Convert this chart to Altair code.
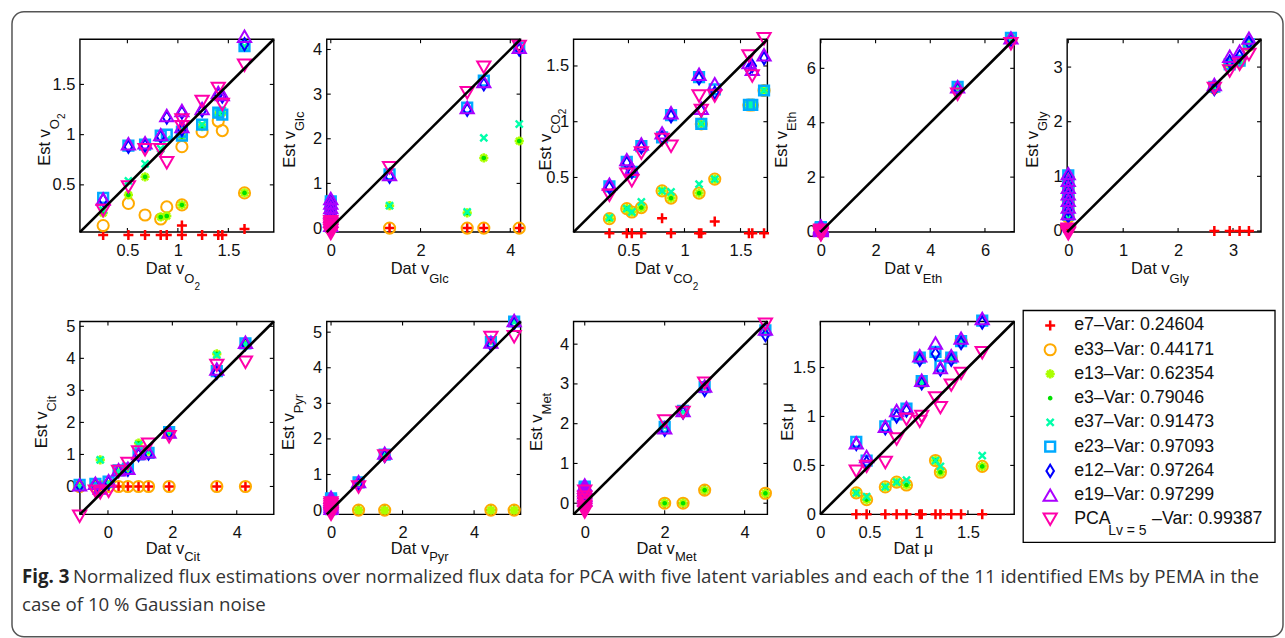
import altair as alt
import pandas as pd

FONT = "Liberation Sans"
W, H = 194, 193

SERIES = ["e7", "e33", "e13", "e3", "e37", "e23", "e12", "e19", "PCA"]
COLORS = ["#ff0000", "#ffaa00", "#aaff00", "#00e000", "#00ffaa", "#00aaff", "#0000ff", "#aa00ff", "#ff00aa"]
LEG_LABELS = ["e7\u2013Var: 0.24604", "e33\u2013Var: 0.44171", "e13\u2013Var: 0.62354",
              "e3\u2013Var: 0.79046", "e37\u2013Var: 0.91473", "e23\u2013Var: 0.97093",
              "e12\u2013Var: 0.97264", "e19\u2013Var: 0.97299"]
PCA_LABEL = ["PCA", "Lv = 5", "\u2013Var: 0.99387"]

# ---------------- data ----------------
x_o2 = [0.26, 0.51, 0.675, 0.83, 0.89, 1.04, 1.04, 1.24, 1.40, 1.44, 1.66]
o2 = {
    "e7":  [0, 0, 0, 0, 0, 0, 0.095, 0, 0, 0, 0.06],
    "e33": [0.095, 0.315, 0.20, 0.16, 0.28, 0.30, 0.88, 1.03, 1.135, 1.04, 0.42],
    "e13": [0.22, 0.40, 0.58, 0.18, 0.19, 0.30, 0.98, 1.08, 1.20, 1.22, 0.42],
    "e3":  [0.22, 0.40, 0.58, 0.18, 0.19, 0.30, 0.98, 1.08, 1.20, 1.22, 0.42],
    "e37": [0.25, 0.54, 0.71, 0.86, 0.95, 1.00, 1.05, 1.10, 1.22, 1.24, 1.88],
    "e23": [0.37, 0.89, 0.90, 0.99, 1.00, 0.99, 1.03, 1.10, 1.22, 1.20, 1.88],
    "e12": [0.35, 0.88, 0.89, 0.98, 1.17, 1.22, 1.05, 1.24, 1.40, 1.38, 1.90],
    "e19": [0.36, 0.91, 0.92, 1.00, 1.19, 1.24, 1.08, 1.26, 1.42, 1.40, 1.98],
    "PCA": [0.245, 0.48, 0.85, 0.85, 0.72, 1.145, 1.08, 1.33, 1.46, 1.30, 1.69],
}
x_glc = [0, 0, 0, 0, 0, 0, 0, 1.31, 3.04, 3.41, 4.2]
glc = {
    "e7":  [0, 0, 0, 0, 0, 0, 0, 0, 0, 0, 0],
    "e33": [0, 0, 0, 0, 0, 0, 0, 0, 0, 0, 0],
    "e13": [0.0, 0.08, 0.15, 0.22, 0.30, 0.36, 0.42, 0.50, 0.34, 1.57, 1.95],
    "e3":  [0.0, 0.08, 0.15, 0.22, 0.30, 0.36, 0.42, 0.50, 0.34, 1.57, 1.95],
    "e37": [0.02, 0.10, 0.20, 0.28, 0.38, 0.46, 0.52, 0.50, 0.36, 2.02, 2.33],
    "e23": [0.04, 0.14, 0.24, 0.34, 0.44, 0.52, 0.60, 1.20, 2.70, 3.30, 4.04],
    "e12": [0.02, 0.12, 0.22, 0.32, 0.40, 0.50, 0.58, 1.15, 2.65, 3.22, 4.00],
    "e19": [0.06, 0.16, 0.26, 0.36, 0.46, 0.56, 0.66, 1.20, 2.70, 3.28, 4.05],
    "PCA": [-0.12, -0.06, -0.02, 0.02, 0.06, 0.10, 0.14, 1.35, 3.03, 3.60, 4.07],
}
x_co2 = [0.33, 0.485, 0.53, 0.615, 0.80, 0.88, 1.13, 1.15, 1.27, 1.575, 1.605, 1.71]
co2 = {
    "e7":  [0, 0, 0, 0, 0.135, 0, 0, 0, 0.105, 0, 0, 0],
    "e33": [0.13, 0.22, 0.19, 0.23, 0.38, 0.315, 0.36, 0.98, 0.485, 1.15, 1.15, 1.28],
    "e13": [0.13, 0.22, 0.19, 0.23, 0.38, 0.315, 0.36, 0.98, 0.485, 1.15, 1.15, 1.28],
    "e3":  [0.13, 0.22, 0.19, 0.23, 0.38, 0.315, 0.36, 0.98, 0.485, 1.15, 1.15, 1.28],
    "e37": [0.14, 0.22, 0.19, 0.28, 0.38, 0.37, 0.44, 0.98, 0.485, 1.15, 1.15, 1.28],
    "e23": [0.42, 0.64, 0.55, 0.78, 0.86, 1.06, 1.40, 0.98, 1.29, 1.15, 1.15, 1.28],
    "e12": [0.41, 0.63, 0.55, 0.77, 0.86, 1.05, 1.39, 1.10, 1.26, 1.47, 1.50, 1.57],
    "e19": [0.44, 0.66, 0.58, 0.80, 0.90, 1.08, 1.425, 1.12, 1.34, 1.53, 1.47, 1.60],
    "PCA": [0.34, 0.53, 0.47, 0.72, 0.84, 0.78, 1.23, 1.10, 1.23, 1.59, 1.41, 1.745],
}
x_eth = [0, 0, 0, 0, 0, 0, 0, 0, 0, 5.0, 6.95]
eth = {
    "e7":  [0, 0, 0, 0, 0, 0, 0, 0, 0, 5.25, 7.05],
    "e33": [0, 0, 0, 0, 0, 0, 0, 0, 0, 5.25, 7.05],
    "e13": [0.0, 0.03, 0.06, 0.09, 0.12, 0.05, 0.02, 0.08, 0.10, 5.28, 7.08],
    "e3":  [0.0, 0.03, 0.06, 0.09, 0.12, 0.05, 0.02, 0.08, 0.10, 5.28, 7.08],
    "e37": [0.02, 0.05, 0.08, 0.11, 0.14, 0.06, 0.03, 0.10, 0.12, 5.30, 7.10],
    "e23": [0.03, 0.06, 0.10, 0.13, 0.16, 0.08, 0.04, 0.12, 0.14, 5.32, 7.12],
    "e12": [0.0, 0.04, 0.08, 0.12, 0.15, 0.06, 0.02, 0.10, 0.13, 5.25, 7.05],
    "e19": [0.04, 0.08, 0.12, 0.16, 0.20, 0.10, 0.05, 0.14, 0.18, 5.32, 7.12],
    "PCA": [-0.10, -0.05, 0.0, 0.03, -0.08, -0.02, 0.05, -0.12, 0.01, 5.05, 6.90],
}
x_gly = [0, 0, 0, 0, 0, 0, 0, 2.66, 2.94, 3.12, 3.29]
gly = {
    "e7":  [0, 0, 0, 0, 0, 0, 0, 0, 0, 0, 0],
    "e33": [0.25, 0.35, 0.45, 0.55, 0.65, 0.80, 0.95, 2.62, 3.05, 3.10, 3.40],
    "e13": [0.25, 0.35, 0.45, 0.55, 0.65, 0.80, 0.95, 2.62, 3.05, 3.10, 3.40],
    "e3":  [0.25, 0.35, 0.45, 0.55, 0.65, 0.80, 0.95, 2.62, 3.05, 3.10, 3.40],
    "e37": [0.28, 0.38, 0.50, 0.60, 0.70, 0.85, 1.00, 2.64, 3.08, 3.12, 3.42],
    "e23": [0.30, 0.42, 0.55, 0.66, 0.78, 0.90, 1.02, 2.64, 3.05, 3.12, 3.42],
    "e12": [0.27, 0.40, 0.52, 0.64, 0.76, 0.90, 1.00, 2.60, 3.10, 3.20, 3.45],
    "e19": [0.32, 0.44, 0.56, 0.68, 0.80, 0.93, 1.05, 2.68, 3.20, 3.29, 3.53],
    "PCA": [-0.05, 0.0, 0.02, -0.03, 0.01, 0.03, -0.02, 2.61, 2.93, 3.05, 3.23],
}
x_cit = [-0.88, -0.39, -0.24, 0.02, 0.33, 0.62, 0.95, 1.26, 1.9, 3.38, 4.27]
cit = {
    "e7":  [0, 0, 0, 0, 0, 0, 0, 0, 0, 0, 0],
    "e33": [0, 0, 0, 0, 0, 0, 0, 0, 0, 0, 0],
    "e13": [0.0, 0.0, 0.83, 0.05, 0.45, 0.55, 1.35, 1.10, 1.70, 4.14, 4.45],
    "e3":  [0.0, 0.0, 0.83, 0.05, 0.45, 0.55, 1.35, 1.10, 1.70, 4.14, 4.45],
    "e37": [0.0, 0.05, 0.83, 0.10, 0.48, 0.55, 1.30, 1.10, 1.72, 4.10, 4.45],
    "e23": [0.05, 0.08, -0.05, 0.15, 0.50, 0.56, 1.00, 1.05, 1.70, 3.60, 4.47],
    "e12": [0.03, 0.06, -0.10, 0.12, 0.48, 0.52, 0.98, 1.03, 1.68, 3.55, 4.45],
    "e19": [0.05, 0.10, -0.05, 0.18, 0.52, 0.57, 1.03, 1.08, 1.70, 3.67, 4.50],
    "PCA": [-0.93, -0.15, -0.20, -0.15, 0.47, 0.72, 1.08, 1.32, 1.55, 3.78, 3.88],
}
x_pyr = [0, 0, 0, 0, 0, 0, 0, 0.77, 1.5, 4.47, 5.12]
pyr = {
    "e7":  [0, 0, 0, 0, 0, 0, 0, 0, 0, 0, 0],
    "e33": [0, 0, 0, 0, 0, 0, 0, 0, 0, 0, 0],
    "e13": [0, 0, 0, 0, 0, 0, 0, 0, 0, 0, 0],
    "e3":  [0.0, 0.05, 0.10, 0.15, 0.20, 0.25, 0.30, 0.75, 1.55, 4.72, 5.30],
    "e37": [0.02, 0.07, 0.12, 0.17, 0.22, 0.27, 0.30, 0.78, 1.55, 4.72, 5.28],
    "e23": [0.03, 0.08, 0.13, 0.18, 0.23, 0.28, 0.33, 0.78, 1.56, 4.72, 5.30],
    "e12": [0.0, 0.05, 0.10, 0.15, 0.20, 0.25, 0.30, 0.74, 1.52, 4.65, 5.25],
    "e19": [0.05, 0.10, 0.15, 0.20, 0.25, 0.30, 0.36, 0.80, 1.60, 4.72, 5.33],
    "PCA": [-0.12, -0.05, 0.0, 0.05, 0.10, 0.15, 0.20, 0.65, 1.52, 4.85, 4.87],
}
x_met = [0, 0, 0, 0, 0, 0, 0, 2.0, 2.46, 3.0, 4.52]
met = {
    "e7":  [0, 0, 0, 0, 0, 0, 0, 0.0, 0.0, 0.33, 0.25],
    "e33": [0, 0, 0, 0, 0, 0, 0, 0.0, 0.0, 0.33, 0.25],
    "e13": [0, 0, 0, 0, 0, 0, 0, 0.0, 0.0, 0.33, 0.25],
    "e3":  [0, 0, 0, 0, 0, 0, 0, 0.0, 0.0, 0.33, 0.25],
    "e37": [0.0, 0.06, 0.12, 0.18, 0.24, 0.30, 0.36, 1.92, 2.30, 2.92, 4.30],
    "e23": [0.05, 0.12, 0.18, 0.25, 0.32, 0.38, 0.42, 1.92, 2.32, 2.92, 4.35],
    "e12": [0.02, 0.08, 0.15, 0.22, 0.28, 0.34, 0.40, 1.85, 2.28, 2.85, 4.23],
    "e19": [0.08, 0.14, 0.20, 0.27, 0.34, 0.40, 0.46, 1.90, 2.33, 2.95, 4.38],
    "PCA": [-0.22, -0.15, -0.08, 0.0, 0.08, 0.15, 0.30, 2.07, 2.28, 3.02, 4.50],
}
x_mu = [0.365, 0.47, 0.66, 0.775, 0.875, 1.01, 1.03, 1.17, 1.22, 1.33, 1.43, 1.645]
mu = {
    "e7":  [0, 0, 0, 0, 0, 0, 0, 0, 0, 0, 0, 0],
    "e33": [0.22, 0.15, 0.28, 0.33, 0.30, 1.60, 1.35, 0.55, 0.43, 1.60, 1.77, 0.49],
    "e13": [0.22, 0.15, 0.28, 0.33, 0.30, 1.60, 1.35, 0.55, 0.43, 1.60, 1.77, 0.49],
    "e3":  [0.22, 0.15, 0.28, 0.33, 0.30, 1.60, 1.35, 0.55, 0.43, 1.60, 1.77, 0.49],
    "e37": [0.22, 0.18, 0.28, 0.33, 0.35, 1.60, 1.35, 0.55, 0.49, 1.60, 1.77, 0.60],
    "e23": [0.74, 0.55, 0.90, 1.02, 1.08, 1.60, 1.36, 1.66, 1.52, 1.60, 1.77, 1.98],
    "e12": [0.72, 0.53, 0.88, 1.00, 1.06, 1.58, 1.34, 1.64, 1.48, 1.58, 1.75, 1.96],
    "e19": [0.73, 0.59, 0.90, 1.06, 1.09, 1.62, 1.37, 1.75, 1.50, 1.62, 1.80, 2.00],
    "PCA": [0.44, 0.49, 0.53, 0.77, 0.97, 0.95, 1.00, 1.19, 1.09, 1.32, 1.44, 1.65],
}

DATA = [(x_o2, o2), (x_glc, glc), (x_co2, co2), (x_eth, eth), (x_gly, gly),
        (x_cit, cit), (x_pyr, pyr), (x_met, met), (x_mu, mu)]
DOMAINS = [[0.03, 1.95], [-0.09, 4.23], [0.01, 1.74], [-0.02, 7.07], [-0.02, 3.51],
           [-0.87, 5.15], [-0.12, 5.30], [-0.28, 4.57], [0.0, 1.97]]
XTICKS = [[0.5, 1, 1.5], [0, 2, 4], [0.5, 1, 1.5], [0, 2, 4, 6], [0, 1, 2, 3],
          [0, 2, 4], [0, 2, 4], [0, 2, 4], [0, 0.5, 1, 1.5]]
YTICKS = [[0.5, 1, 1.5], [0, 1, 2, 3, 4], [0.5, 1, 1.5], [0, 2, 4, 6], [0, 1, 2, 3],
          [0, 1, 2, 3, 4, 5], [0, 1, 2, 3, 4, 5], [0, 1, 2, 3, 4], [0, 0.5, 1, 1.5]]
TITLES = [("v", "O", "2"), ("v", "Glc", ""), ("v", "CO", "2"), ("v", "Eth", ""), ("v", "Gly", ""),
          ("v", "Cit", ""), ("v", "Pyr", ""), ("v", "Met", ""), ("\u03bc", "", "")]
YOFF = [-30, -32, -23, -33, -29, -33, -33, -32, -27]

PLUS = "M-1,0L1,0M0,-1L0,1"
STAR = "M-1,0L1,0M0,-1L0,1M-0.7,-0.7L0.7,0.7M-0.7,0.7L0.7,-0.7"
XSHP = "M-1,-1L1,1M-1,1L1,-1"
DIAM = "M0,-1L0.62,0L0,1L-0.62,0Z"
STYLES = {
    "e7":  dict(shape=PLUS, size=100, strokeWidth=2.5),
    "e33": dict(shape="circle", size=125, strokeWidth=2),
    "e13": dict(shape=STAR, size=85, strokeWidth=2.6),
    "e3":  dict(shape="circle", size=6, strokeWidth=2.2),
    "e37": dict(shape=XSHP, size=50, strokeWidth=2.4),
    "e23": dict(shape="square", size=95, strokeWidth=2.5),
    "e12": dict(shape=DIAM, size=150, strokeWidth=2),
    "e19": dict(shape="triangle-up", size=175, strokeWidth=2),
    "PCA": dict(shape="triangle-down", size=175, strokeWidth=2),
}

ONE = pd.DataFrame({"k": [0]})

AW = {' ': 278, 'D': 722, 'a': 556, 't': 278, 'v': 500, 'E': 667, 's': 500, 'O': 778, 'C': 722,
      'G': 778, 'l': 222, 'c': 500, 'h': 556, 'y': 500, 'i': 222, 'P': 667, 'r': 333, 'M': 833,
      'e': 556, '2': 556, '\u03bc': 576}


def tw(s, fs):
    return sum(AW.get(ch, 556) for ch in s) * fs / 1000.0


def txt(t, x, y, size=16.5, angle=0, align="left", baseline="alphabetic",
        weight="normal", font=FONT, color="#111111"):
    return alt.Chart(ONE).mark_text(
        text=t, fontSize=size, angle=angle, align=align, baseline=baseline,
        fontWeight=weight, font=font, color=color
    ).encode(x=alt.value(x), y=alt.value(y))


def rect(x1, x2, y1, y2, stroke="black", sw=1.5, radius=0, fill="transparent"):
    kw = dict(fill=fill, stroke=stroke, strokeWidth=sw)
    if radius:
        kw["cornerRadius"] = radius
    return alt.Chart(ONE).mark_rect(**kw).encode(
        x=alt.value(x1), x2=alt.value(x2), y=alt.value(y1), y2=alt.value(y2))


def axis_x(vals):
    return alt.Axis(values=vals, format="~g", title=None, ticks=False, domain=False, grid=False,
                    labelFont=FONT, labelFontSize=16.5, labelColor="#111111", labelPadding=10,
                    labelFlush=False, labelOverlap=False, labelBound=False)


def axis_y(vals):
    return alt.Axis(values=vals, format="~g", title=None, ticks=False, domain=False, grid=False,
                    labelFont=FONT, labelFontSize=16.5, labelColor="#111111", labelPadding=5,
                    labelFlush=False, labelOverlap=False, labelBound=False)


def panel(i, extra=()):
    xs, ys = DATA[i]
    dom = DOMAINS[i]
    sc = alt.Scale(domain=dom, nice=False, zero=False)
    rows = []
    for s in SERIES:
        for xv, yv in zip(xs, ys[s]):
            rows.append({"x": xv, "y": yv, "s": s})
    df = pd.DataFrame(rows)
    X = alt.X("x:Q", scale=sc, axis=axis_x(XTICKS[i]))
    Y = alt.Y("y:Q", scale=sc, axis=axis_y(YTICKS[i]))

    layers = [rect(0, W, 0, H, stroke="black", sw=1.4)]
    xt = pd.DataFrame({"x": XTICKS[i]})
    yt = pd.DataFrame({"y": YTICKS[i]})
    layers.append(alt.Chart(xt).mark_rule(color="black", strokeWidth=1.1).encode(
        x=X, y=alt.value(H), y2=alt.value(H - 4)))
    layers.append(alt.Chart(xt).mark_rule(color="black", strokeWidth=1.1).encode(
        x=X, y=alt.value(0), y2=alt.value(4)))
    layers.append(alt.Chart(yt).mark_rule(color="black", strokeWidth=1.1).encode(
        y=Y, x=alt.value(0), x2=alt.value(4)))
    layers.append(alt.Chart(yt).mark_rule(color="black", strokeWidth=1.1).encode(
        y=Y, x=alt.value(W), x2=alt.value(W - 4)))

    for s, c in zip(SERIES, COLORS):
        layers.append(alt.Chart(df).transform_filter(alt.datum.s == s).mark_point(
            color=c, filled=False, opacity=1, **STYLES[s]).encode(x=X, y=Y))

    diag = pd.DataFrame({"x": dom, "y": dom})
    layers.append(alt.Chart(diag).mark_line(color="black", strokeWidth=2.6).encode(x=X, y=Y))

    main, sub, subsub = TITLES[i]
    wm = tw("Dat " + main, 16.5)
    ws = tw(sub, 13)
    wss = tw(subsub, 10)
    total = wm + ws + wss
    start = W / 2 - 4 - total / 2
    b0 = H + (42 if i < 5 else 40)
    layers.append(txt("Dat " + main, start, b0))
    if sub:
        layers.append(txt(sub, start + wm, b0 + (9 if i < 5 else 7), size=13))
    if subsub:
        layers.append(txt(subsub, start + wm + ws, b0 + 16, size=10))
    wm = tw("Est " + main, 16.5)
    total = wm + ws + wss
    ystart = H / 2 + total / 2 + 4
    off = YOFF[i]
    layers.append(txt("Est " + main, off, ystart, angle=270))
    if sub:
        layers.append(txt(sub, off + 9, ystart - wm, size=13, angle=270))
    if subsub:
        layers.append(txt(subsub, off + 15, ystart - wm - ws, size=10, angle=270))

    layers.extend(extra)
    return alt.layer(*layers).properties(width=W, height=H)


# legend panel
leg_rows = []
for k, s in enumerate(SERIES):
    leg_rows.append({"idx": k, "s": s, "label": LEG_LABELS[k] if k < len(LEG_LABELS) else ""})
legdf = pd.DataFrame(leg_rows)
LY = alt.Y("idx:Q", scale=alt.Scale(domain=[0, 8], range=[4, 198]), axis=None)
leg_layers = [rect(-44, 208, -11, 221, stroke="black", sw=1.3, fill="white")]
for s, c in zip(SERIES, COLORS):
    leg_layers.append(alt.Chart(legdf).transform_filter(alt.datum.s == s).mark_point(
        color=c, filled=False, opacity=1, **STYLES[s]).encode(x=alt.value(-17), y=LY))
leg_layers.append(alt.Chart(legdf).transform_filter(alt.datum.idx < 8).mark_text(
    align="left", baseline="middle", font=FONT, fontSize=17.8, color="#111111").encode(
    x=alt.value(7), y=LY, text="label:N"))
pca_row = legdf[legdf["s"] == "PCA"]
leg_layers.append(alt.Chart(pca_row).mark_text(
    text=PCA_LABEL[0], align="left", baseline="middle", font=FONT, fontSize=17.8,
    color="#111111").encode(x=alt.value(7), y=LY))
leg_layers.append(alt.Chart(pca_row).mark_text(
    text=PCA_LABEL[1], align="left", baseline="middle", font=FONT, fontSize=14, dy=12,
    color="#111111").encode(x=alt.value(41), y=LY))
leg_layers.append(alt.Chart(pca_row).mark_text(
    text=PCA_LABEL[2], align="left", baseline="middle", font=FONT, fontSize=17.8,
    color="#111111").encode(x=alt.value(85), y=LY))
legend = alt.layer(*leg_layers).properties(width=W, height=H)

CAP_FONT = "Open Sans"
CAP_SIZE = 18.7
border = rect(-68, 1204, -27.5, 598, stroke="#555555", sw=1.5, radius=12)
caption = [
    txt("Fig. 3", -58, 256, size=CAP_SIZE, baseline="middle", weight="bold", font=CAP_FONT, color="#222222"),
    txt("Normalized flux estimations over normalized flux data for PCA with five latent variables "
        "and each of the 11 identified EMs by PEMA in the", -7, 256, size=CAP_SIZE, baseline="middle",
        font=CAP_FONT, color="#333333"),
    txt("case of 10 % Gaussian noise", -58, 284, size=CAP_SIZE, baseline="middle",
        font=CAP_FONT, color="#333333"),
]

panels = []
for i in range(9):
    extra = ()
    if i == 0:
        extra = (border,)
    if i == 5:
        extra = tuple(caption)
    panels.append(panel(i, extra))

chart = alt.concat(*panels, legend, columns=5, spacing={"row": 89.5, "column": 53},
                   bounds="flush").properties(
    padding={"left": 10, "top": 10, "right": 0, "bottom": 0},
    background="white",
).configure_view(stroke="transparent")

chart.save("out.html", embed_options={"renderer": "svg", "actions": False})
